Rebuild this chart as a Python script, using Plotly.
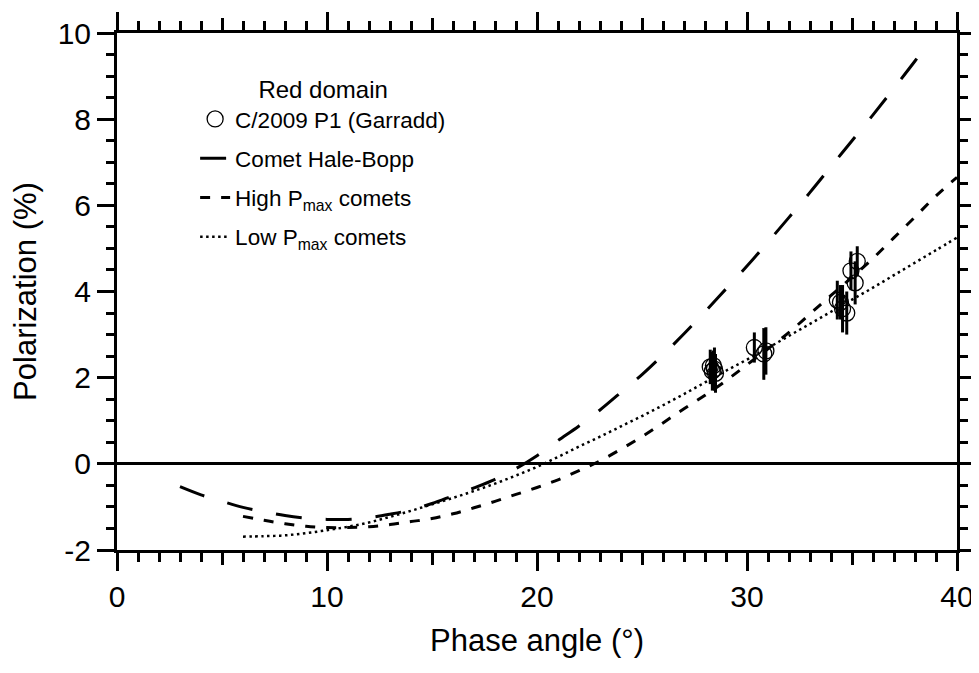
import plotly.graph_objects as go

# ---- data ----
hb_phase = [3, 4, 5, 6, 7, 8, 9, 10, 11, 12, 13, 14, 15, 16, 17, 18, 19, 20, 21, 22, 23, 24, 25,
            26, 27, 28, 29, 30, 31, 32, 33, 34, 35, 36, 37, 38, 38.5]
hb_pol = [-0.53, -0.72, -0.87, -1.01, -1.11, -1.20, -1.26, -1.29, -1.29, -1.25, -1.17, -1.07,
          -0.92, -0.74, -0.56, -0.36, -0.11, 0.19, 0.54, 0.88, 1.25, 1.66, 2.07, 2.53, 3.02,
          3.53, 4.06, 4.59, 5.15, 5.72, 6.30, 6.90, 7.50, 8.10, 8.72, 9.35, 9.68]

high_phase = [6, 7, 8, 9, 10, 11, 12, 13, 14, 15, 16, 17, 18, 19, 20, 21, 22, 23, 24, 25, 26,
              27, 28, 29, 30, 31, 32, 33, 34, 35, 36, 37, 38, 39, 40]
high_pol = [-1.22, -1.31, -1.39, -1.45, -1.48, -1.48, -1.46, -1.41, -1.34, -1.27, -1.16, -1.02,
            -0.87, -0.71, -0.55, -0.37, -0.16, 0.07, 0.34, 0.63, 0.95, 1.28, 1.59, 1.93, 2.30,
            2.67, 3.05, 3.48, 3.91, 4.33, 4.77, 5.25, 5.73, 6.22, 6.65]

low_phase = [6, 7, 8, 9, 10, 11, 12, 13, 14, 15, 16, 17, 18, 19, 20, 21, 22, 23, 24, 25, 26,
             27, 28, 29, 30, 31, 32, 33, 34, 35, 36, 37, 38, 39, 40]
low_pol = [-1.69, -1.68, -1.66, -1.61, -1.54, -1.46, -1.36, -1.23, -1.09, -0.94, -0.79, -0.63,
           -0.46, -0.27, -0.07, 0.16, 0.40, 0.63, 0.87, 1.11, 1.36, 1.62, 1.89, 2.16, 2.42,
           2.69, 2.97, 3.25, 3.53, 3.81, 4.09, 4.38, 4.67, 4.96, 5.25]

garradd_phase = [28.25, 28.35, 28.45, 28.50, 28.40, 30.35, 30.80, 30.90,
                 34.30, 34.45, 34.55, 34.75, 34.95, 35.25, 35.15]
garradd_pol = [2.25, 2.15, 2.20, 2.10, 2.28, 2.70, 2.55, 2.62,
               3.80, 3.75, 3.60, 3.50, 4.48, 4.70, 4.20]
garradd_err = [0.40, 0.45, 0.50, 0.45, 0.35, 0.35, 0.60, 0.55,
               0.45, 0.40, 0.55, 0.50, 0.45, 0.35, 0.50]

x_major = [0, 10, 20, 30, 40]
x_mid = [5, 15, 25, 35]
y_major = [-2, 0, 2, 4, 6, 8, 10]

FONT = "Liberation Sans, Arial, Helvetica, sans-serif"

fig = go.Figure()

fig.add_trace(go.Scatter(
    x=hb_phase, y=hb_pol, mode="lines", name="Comet Hale-Bopp",
    line=dict(color="black", width=3, dash="26px,24px", shape="spline"),
    legendgroup="b", legendrank=2))
fig.add_trace(go.Scatter(
    x=high_phase, y=high_pol, mode="lines", name="High P<sub>max</sub> comets",
    line=dict(color="black", width=3, dash="10px,11px", shape="spline"),
    legendgroup="c", legendrank=3))
fig.add_trace(go.Scatter(
    x=low_phase, y=low_pol, mode="lines", name="Low P<sub>max</sub> comets",
    line=dict(color="black", width=2.5, dash="2.5px,3.5px", shape="spline"),
    legendgroup="d", legendrank=4))
fig.add_trace(go.Scatter(
    x=garradd_phase, y=garradd_pol, mode="markers", name="C/2009 P1 (Garradd)",
    marker=dict(symbol="circle-open", size=16, color="black",
                line=dict(width=1.3, color="black")),
    error_y=dict(type="data", array=garradd_err, visible=True,
                 thickness=3, width=0, color="black"),
    legendgroup="a", legendrank=1))
# helper (empty) trace for the secondary tick axis
fig.add_trace(go.Scatter(x=[None], y=[None], xaxis="x2", showlegend=False,
                         hoverinfo="skip"))

fig.update_layout(
    width=971, height=665,
    margin=dict(l=109, r=22, t=25, b=123, autoexpand=False),
    paper_bgcolor="white", plot_bgcolor="white",
    font=dict(family=FONT, color="black"),
    showlegend=True,
    legend=dict(
        x=0.093, y=0.935, xanchor="left", yanchor="top",
        font=dict(size=22.5, family=FONT, color="black"),
        title=dict(text="Red domain", side="top center",
                   font=dict(size=24, family=FONT, color="black")),
        bgcolor="rgba(0,0,0,0)", tracegroupgap=7,
    ),
    xaxis=dict(
        range=[0, 40], tickvals=x_major, ticktext=[str(v) for v in x_major],
        ticks="outside", ticklen=18, tickwidth=2.5, tickcolor="black",
        minor=dict(dtick=1, ticks="outside", ticklen=9, tickwidth=2.5, tickcolor="black"),
        showline=True, linewidth=3, linecolor="black", mirror="ticks",
        showgrid=False, zeroline=False, automargin=False,
        tickfont=dict(size=30, family=FONT),
        title=dict(text="Phase angle (°)", font=dict(size=31, family=FONT), standoff=18),
    ),
    xaxis2=dict(
        overlaying="x", anchor="y", side="bottom", range=[0, 40],
        tickvals=x_mid, ticks="outside", ticklen=14, tickwidth=2.5, tickcolor="black",
        showticklabels=False, showline=False, mirror="ticks",
        showgrid=False, zeroline=False, automargin=False,
    ),
    yaxis=dict(
        range=[-2, 10], tickvals=y_major, ticktext=[str(v) for v in y_major],
        ticks="outside", ticklen=17, tickwidth=2.5, tickcolor="black",
        minor=dict(dtick=0.5, ticks="outside", ticklen=8, tickwidth=2.5, tickcolor="black"),
        showline=True, linewidth=3, linecolor="black", mirror="ticks",
        showgrid=False, zeroline=True, zerolinecolor="black", zerolinewidth=2.5,
        automargin=False,
        tickfont=dict(size=30, family=FONT),
        title=dict(text="Polarization (%)", font=dict(size=31, family=FONT), standoff=12),
    ),
)

fig.write_html("out.html")
